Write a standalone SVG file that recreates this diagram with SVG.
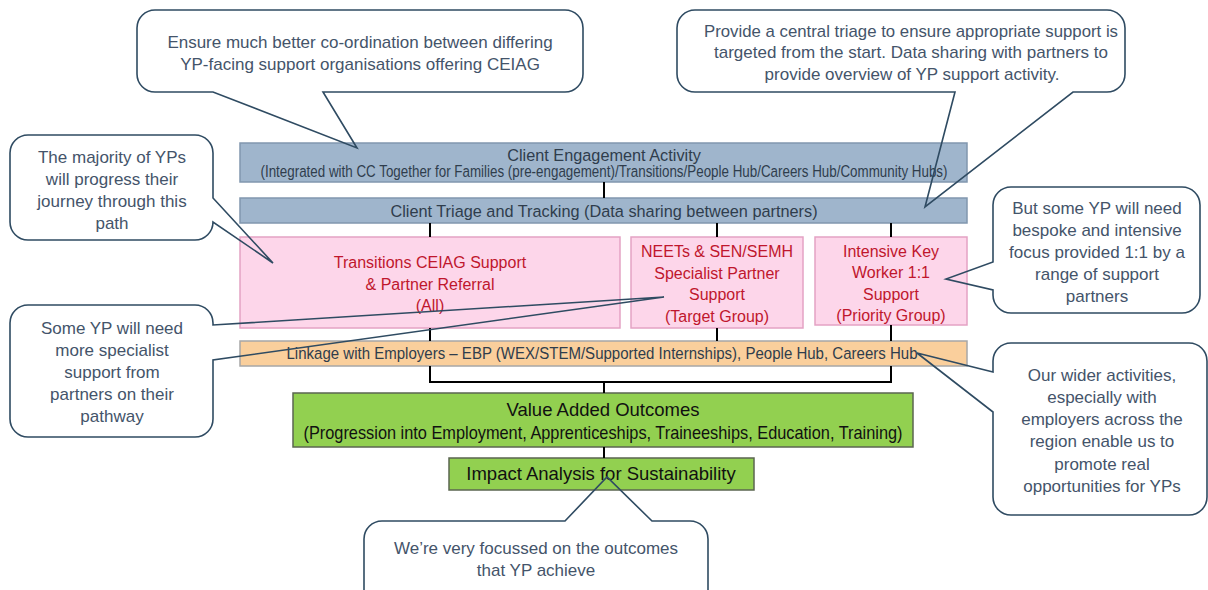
<svg xmlns="http://www.w3.org/2000/svg" width="1208" height="590" viewBox="0 0 1208 590">
<style>
.box{stroke-width:1.5}
.blue{fill:#9fb5cc;stroke:#8197ae}
.pink{fill:#fdd6ea;stroke:#e4a2c4}
.orange{fill:#facf9c;stroke:#a7a7a7}
.green{fill:#92d050;stroke:#5b6650}
.t{font-family:"Liberation Sans",Arial,sans-serif;text-anchor:middle}
.bt{fill:#2f3d4c;font-size:16.3px}
.pt{fill:#c0162d;font-size:16px}
.gt{fill:#111;font-size:18.5px}
.ct{fill:#44546a;font-size:17px}
.callout{fill:none;stroke:#2f4b62;stroke-width:1.6;stroke-linejoin:miter}
.conn line,.conn polyline{stroke:#000;stroke-width:2;fill:none}
</style>
<rect width="1208" height="590" fill="#fff"/>
<g id="engagement">
<rect class="box blue" x="240" y="143" width="727" height="39"/>
<text class="t bt" x="604" y="161">Client Engagement Activity</text>
<text class="t bt" x="604" y="177" font-size="12.5" textLength="687" lengthAdjust="spacingAndGlyphs">(Integrated with CC Together for Families (pre-engagement)/Transitions/People  Hub/Careers Hub/Community Hubs)</text>
</g>
<g id="triage">
<rect class="box blue" x="240" y="198" width="727" height="25"/>
<text class="t bt" x="604" y="216.5">Client Triage and Tracking (Data sharing between partners)</text>
</g>
<g id="transitions">
<rect class="box pink" x="240" y="237" width="380" height="91"/>
<text class="t pt" x="430" y="268">Transitions CEIAG Support</text>
<text class="t pt" x="430" y="290">&amp; Partner Referral</text>
<text class="t pt" x="430" y="311">(All)</text>
</g>
<g id="neets">
<rect class="box pink" x="631" y="237" width="172" height="91"/>
<text class="t pt" x="717" y="257">NEETs &amp; SEN/SEMH</text>
<text class="t pt" x="717" y="279">Specialist Partner</text>
<text class="t pt" x="717" y="300">Support</text>
<text class="t pt" x="717" y="322">(Target Group)</text>
</g>
<g id="intensive">
<rect class="box pink" x="815" y="237" width="152" height="88"/>
<text class="t pt" x="891" y="257">Intensive Key</text>
<text class="t pt" x="891" y="278">Worker 1:1</text>
<text class="t pt" x="891" y="300">Support</text>
<text class="t pt" x="891" y="321">(Priority Group)</text>
</g>
<g id="linkage">
<rect class="box orange" x="240" y="341" width="727" height="25"/>
<text class="t bt" x="602" y="359" textLength="631" lengthAdjust="spacingAndGlyphs">Linkage with Employers – EBP (WEX/STEM/Supported Internships), People Hub, Careers Hub</text>
</g>
<g id="outcomes">
<rect class="box green" x="293" y="393" width="620" height="54"/>
<text class="t gt" x="603" y="416">Value Added Outcomes</text>
<text class="t gt" x="603" y="439" font-size="16" textLength="599" lengthAdjust="spacingAndGlyphs">(Progression into Employment, Apprenticeships, Traineeships, Education, Training)</text>
</g>
<g id="impact">
<rect class="box green" x="449" y="458" width="305" height="32"/>
<text class="t gt" x="601" y="480">Impact Analysis for Sustainability</text>
</g>
<g class="conn" id="connectors">
<line x1="604" y1="182" x2="604" y2="198"/>
<line x1="430" y1="223" x2="430" y2="237"/>
<line x1="717" y1="223" x2="717" y2="237"/>
<line x1="891" y1="223" x2="891" y2="237"/>
<line x1="430" y1="328" x2="430" y2="341"/>
<line x1="717" y1="328" x2="717" y2="341"/>
<line x1="891" y1="325" x2="891" y2="341"/>
<polyline points="430,366 430,382 891,382 891,366"/>
<line x1="604" y1="382" x2="604" y2="393"/>
<line x1="604" y1="447" x2="604" y2="458"/>
</g>
<g id="callout-coordination">
<path class="callout" d="M155,10 H565 A18,18 0 0 1 583,28 V74 A18,18 0 0 1 565,92 H323 L357,148 L213,92 H155 A18,18 0 0 1 137,74 V28 A18,18 0 0 1 155,10 Z"/>
<text class="t ct" x="360" y="48">Ensure much better co-ordination between differing</text>
<text class="t ct" x="360" y="70">YP-facing support organisations offering CEIAG</text>
</g>
<g id="callout-triage">
<path class="callout" d="M695,10 H1107 A18,18 0 0 1 1125,28 V74 A18,18 0 0 1 1107,92 H1073 L925,207 L955,92 H695 A18,18 0 0 1 677,74 V28 A18,18 0 0 1 695,10 Z"/>
<text class="t ct" x="911" y="37" textLength="414" lengthAdjust="spacingAndGlyphs">Provide a central triage to ensure appropriate support is</text>
<text class="t ct" x="911" y="58">targeted from the start. Data sharing with partners to</text>
<text class="t ct" x="912" y="80">provide overview of YP support activity.</text>
</g>
<g id="callout-majority">
<path class="callout" d="M28,135 H195 A18,18 0 0 1 213,153 V198 L273,263 L213,222 A18,18 0 0 1 195,240 H28 A18,18 0 0 1 10,222 V153 A18,18 0 0 1 28,135 Z"/>
<text class="t ct" x="112" y="163">The majority of YPs</text>
<text class="t ct" x="112" y="185">will progress their</text>
<text class="t ct" x="112" y="207">journey through this</text>
<text class="t ct" x="112" y="229">path</text>
</g>
<g id="callout-specialist">
<path class="callout" d="M28,305 H195 A18,18 0 0 1 213,323 V325 L664,297 L213,360 V419 A18,18 0 0 1 195,437 H28 A18,18 0 0 1 10,419 V323 A18,18 0 0 1 28,305 Z"/>
<text class="t ct" x="112" y="334">Some YP will need</text>
<text class="t ct" x="112" y="356">more specialist</text>
<text class="t ct" x="112" y="378">support from</text>
<text class="t ct" x="112" y="400">partners on their</text>
<text class="t ct" x="112" y="422">pathway</text>
</g>
<g id="callout-bespoke">
<path class="callout" d="M1011,187 H1182 A18,18 0 0 1 1200,205 V295 A18,18 0 0 1 1182,313 H1011 A18,18 0 0 1 993,295 V290 L946,279 L993,262 V205 A18,18 0 0 1 1011,187 Z"/>
<text class="t ct" x="1097" y="214">But some YP will need</text>
<text class="t ct" x="1097" y="236">bespoke and intensive</text>
<text class="t ct" x="1097" y="258">focus provided 1:1 by a</text>
<text class="t ct" x="1097" y="280">range of support</text>
<text class="t ct" x="1097" y="302">partners</text>
</g>
<g id="callout-wider">
<path class="callout" d="M1011,343 H1189 A18,18 0 0 1 1207,361 V497 A18,18 0 0 1 1189,515 H1011 A18,18 0 0 1 993,497 V412 L917,353 L993,372 V361 A18,18 0 0 1 1011,343 Z"/>
<text class="t ct" x="1102" y="381">Our wider activities,</text>
<text class="t ct" x="1102" y="403">especially with</text>
<text class="t ct" x="1102" y="425">employers across the</text>
<text class="t ct" x="1102" y="447">region enable us to</text>
<text class="t ct" x="1102" y="470">promote real</text>
<text class="t ct" x="1102" y="492">opportunities for YPs</text>
</g>
<g id="callout-outcomes">
<path class="callout" d="M364,600 V539 A18,18 0 0 1 382,521 H565 L607,477 L652,521 H690 A18,18 0 0 1 708,539 V600"/>
<text class="t ct" x="536" y="554">We’re very focussed on the outcomes</text>
<text class="t ct" x="536" y="576">that YP achieve</text>
</g>
</svg>
